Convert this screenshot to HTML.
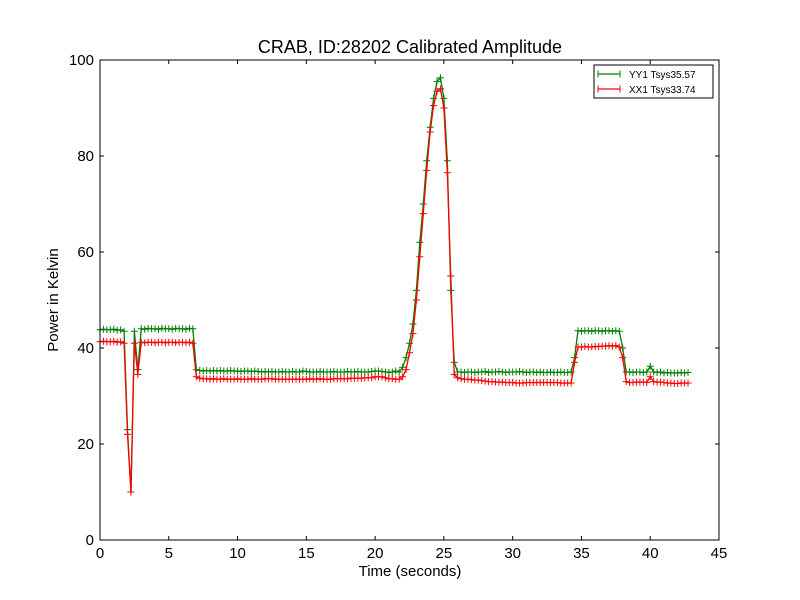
<!DOCTYPE html>
<html><head><meta charset="utf-8">
<style>
html,body{margin:0;padding:0;background:#fff;}
svg{display:block;font-family:"Liberation Sans","DejaVu Sans",sans-serif;}
</style></head>
<body>
<svg id="chart" width="800" height="600" viewBox="0 0 800 600" xmlns="http://www.w3.org/2000/svg">
<rect x="0" y="0" width="800" height="600" fill="#fff"/>
<text x="410" y="53" font-size="18" text-anchor="middle">CRAB, ID:28202 Calibrated Amplitude</text>
<text x="410" y="576" font-size="15" text-anchor="middle">Time (seconds)</text>
<text x="58" y="300" font-size="15" text-anchor="middle" transform="rotate(-90 58 300)">Power in Kelvin</text>
<g id="series"></g>
<g id="axes"></g>
<g>
<rect x="594" y="65" width="119" height="33" fill="#fff" stroke="#000" stroke-width="1"/>
<line x1="598" y1="74" x2="620" y2="74" stroke="#008000" stroke-width="1.2"/>
<line x1="598" y1="70.5" x2="598" y2="77.5" stroke="#008000"/><line x1="620" y1="70.5" x2="620" y2="77.5" stroke="#008000"/>
<text x="629" y="78" font-size="10">YY1 Tsys35.57</text>
<line x1="598" y1="89" x2="620" y2="89" stroke="#ff0000" stroke-width="1.2"/>
<line x1="598" y1="85.5" x2="598" y2="92.5" stroke="#ff0000"/><line x1="620" y1="85.5" x2="620" y2="92.5" stroke="#ff0000"/>
<text x="629" y="93" font-size="10">XX1 Tsys33.74</text>
</g>
</svg>
<script>
const times = [0,0.25,0.5,0.75,1,1.25,1.5,1.75,2,2.25,2.5,2.75,3,3.25,3.5,3.75,4,4.25,4.5,4.75,5,5.25,5.5,5.75,6,6.25,6.5,6.75,
7,7.25,7.5,7.75,8,8.25,8.5,8.75,9,9.25,9.5,9.75,10,10.25,10.5,10.75,11,11.25,11.5,11.75,12,12.25,12.5,12.75,13,13.25,13.5,13.75,14,14.25,14.5,14.75,15,15.25,15.5,15.75,16,16.25,16.5,16.75,17,17.25,17.5,17.75,18,18.25,18.5,18.75,19,19.25,19.5,19.75,20,20.25,20.5,20.75,21,21.25,21.5,
21.75,22,22.25,22.5,22.75,23,23.25,23.5,23.75,24,24.25,24.5,24.75,25,25.25,25.5,25.75,26,
26.25,26.5,26.75,27,27.25,27.5,27.75,28,28.25,28.5,28.75,29,29.25,29.5,29.75,30,30.25,30.5,30.75,31,31.25,31.5,31.75,32,32.25,32.5,32.75,33,33.25,33.5,33.75,34,34.25,
34.5,34.75,35,35.25,35.5,35.75,36,36.25,36.5,36.75,37,37.25,37.5,37.75,38,
38.25,38.5,38.75,39,39.25,39.5,39.75,40,40.25,40.5,40.75,41,41.25,41.5,41.75,42,42.25,42.5,42.75];
const yy1 = [43.8,43.9,43.8,43.8,43.9,43.7,43.8,43.5,23,10,43.5,35.5,
44.0,43.9,44.1,44.0,44.0,43.9,44.1,44.0,44.0,43.9,44.1,44.0,44.0,43.9,44.1,44.0,
35.5,35.3,35.2,35.3,35.2,35.3,35.2,35.3,35.2,35.2,35.3,35.2,35.2,35.1,35.2,35.2,35.1,35.2,35.1,35.0,35.1,35.0,35.1,35.0,35.0,35.1,35.0,35.0,35.1,35.0,35.0,35.2,35.1,35.0,35.0,35.0,35.1,35.0,35.0,35.0,35.1,35.0,35.0,35.0,35.1,35.0,35.0,35.1,35.0,35.0,35.0,35.1,35.2,35.2,35.1,35.0,34.9,35.0,35.2,
35,36,38,41,45,52,62,70,79,86,92,95.5,96.3,92,79,52,37,35,
35.0,34.9,35.0,35.0,34.9,35.0,35.0,35.1,34.9,35.0,35.0,35.1,35.0,34.9,35.0,35.0,35.0,35.1,35.0,34.9,35.0,35.0,34.9,35.0,34.9,34.9,35.0,34.9,34.9,35.0,34.9,34.9,35.0,
38,43.6,43.5,43.6,43.6,43.5,43.6,43.6,43.5,43.6,43.6,43.5,43.6,43.5,40,
35.0,35.0,34.9,35.0,35.0,34.9,35.0,36.2,35.0,34.9,35.0,34.8,34.9,34.8,34.8,34.8,34.9,34.8,34.9];
const xx1 = [41.3,41.4,41.3,41.3,41.4,41.2,41.3,41.0,22,10,41,34.5,
41.2,41.1,41.2,41.2,41.1,41.2,41.2,41.1,41.2,41.2,41.1,41.2,41.2,41.1,41.2,41.0,
34.0,33.7,33.6,33.6,33.5,33.6,33.5,33.5,33.6,33.5,33.5,33.5,33.6,33.5,33.5,33.5,33.6,33.5,33.5,33.5,33.6,33.6,33.6,33.5,33.5,33.5,33.5,33.5,33.5,33.5,33.5,33.5,33.5,33.6,33.5,33.5,33.6,33.5,33.5,33.5,33.6,33.6,33.6,33.6,33.6,33.7,33.7,33.7,33.7,33.8,33.8,33.8,34.0,34.0,34.0,33.8,33.6,33.6,33.5,
33.5,34,35.5,39,43,50,59,68,77,85,90.5,93.5,94,90,76.5,55,34.5,33.8,
33.6,33.5,33.5,33.4,33.3,33.3,33.2,33.1,33.0,33.0,32.9,32.9,32.9,32.8,32.8,32.8,32.7,32.7,32.7,32.8,32.8,32.8,32.8,32.8,32.8,32.8,32.8,32.8,32.8,32.7,32.7,32.7,32.7,
37,40.2,40.2,40.3,40.2,40.2,40.3,40.3,40.4,40.4,40.5,40.4,40.5,40.2,38,
33.0,32.8,32.8,32.9,32.9,32.9,32.8,34.0,33.0,32.9,32.9,32.8,32.7,32.7,32.6,32.6,32.7,32.7,32.7];
const xTicks = [0,5,10,15,20,25,30,35,40,45];
const yTicks = [0,20,40,60,80,100];

const NS = "http://www.w3.org/2000/svg";
const L=100,R=719,T=60,B=540;
const xs = v => L + (v/45)*(R-L);
const ys = v => B - (v/100)*(B-T);

function mk(tag, attrs, parent){
  const e=document.createElementNS(NS,tag);
  for(const k in attrs) e.setAttribute(k,attrs[k]);
  parent.appendChild(e); return e;
}
const sg=document.getElementById('series');
function drawSeries(vals,color,name){
  const g=mk('g',{},sg);
  
  
  const pts=times.map((t,i)=>xs(t).toFixed(2)+','+ys(vals[i]).toFixed(2)).join(' ');
  const pl=mk('polyline',{points:pts,fill:'none',stroke:color,'stroke-width':1.3},g);
  
  
  let d='';
  times.forEach((t,i)=>{const x=xs(t),y=ys(vals[i]);
    d+=`M${(x-3.5).toFixed(2)},${y.toFixed(2)}h7M${x.toFixed(2)},${(y-3.5).toFixed(2)}v7`;});
  const mp=mk('path',{d:d,stroke:color,'stroke-width':1,fill:'none'},g);
  
  
}
drawSeries(yy1,'#008000','series-yy1');
drawSeries(xx1,'#ff0000','series-xx1');

const ag=document.getElementById('axes');
const frame=mk('rect',{x:L,y:T,width:R-L,height:B-T,fill:'none',stroke:'#000','stroke-width':1},ag);


xTicks.forEach(v=>{
  const x=xs(v);
  mk('line',{x1:x,y1:B,x2:x,y2:B-4,stroke:'#000'},ag);
  mk('line',{x1:x,y1:T,x2:x,y2:T+4,stroke:'#000'},ag);
  const t=mk('text',{x:x,y:B+18,'font-size':15,'text-anchor':'middle'},ag);
  
  
  t.textContent=v;
});
yTicks.forEach(v=>{
  const y=ys(v);
  mk('line',{x1:L,y1:y,x2:L+4,y2:y,stroke:'#000'},ag);
  mk('line',{x1:R,y1:y,x2:R-4,y2:y,stroke:'#000'},ag);
  const t=mk('text',{x:L-6,y:y+5,'font-size':15,'text-anchor':'end'},ag);
  
  
  t.textContent=v;
});
</script>
</body></html>
